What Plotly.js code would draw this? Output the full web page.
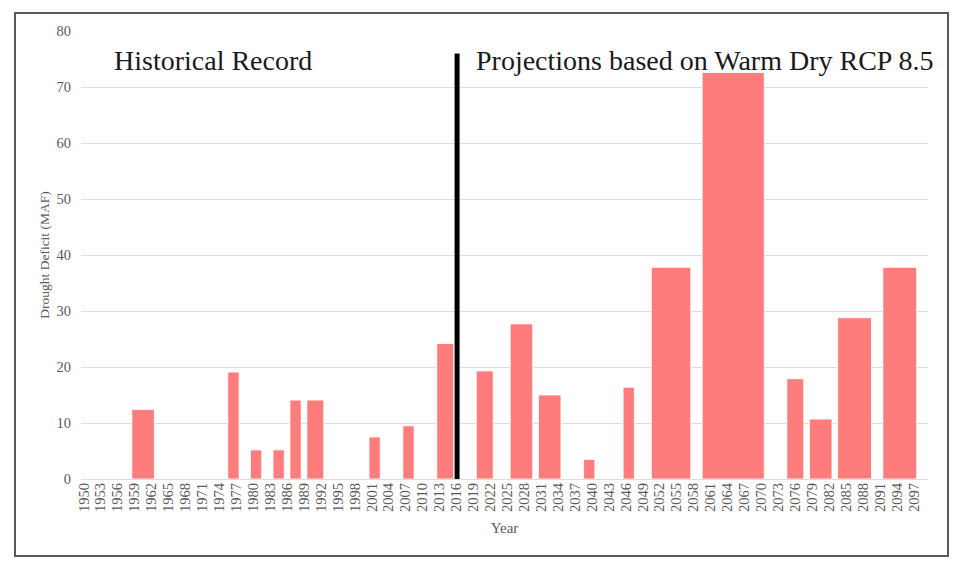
<!DOCTYPE html>
<html>
<head>
<meta charset="utf-8">
<script src="https://cdn.plot.ly/plotly-3.0.1.min.js"></script>
<style>
  html, body { margin: 0; padding: 0; background: #ffffff; }
  #frame { position: absolute; left: 14px; top: 12px; width: 931px; height: 541px; border: 2px solid #595959; background: #fff; }
  #chart { width: 931px; height: 541px; }
</style>
</head>
<body>
<div id="frame"><div id="chart"></div></div>
<script>
// Drought events: first year, last year, drought deficit (MAF)
var droughtStart = [1959, 1976, 1980, 1984, 1987, 1990, 2001, 2007, 2013, 2020, 2026, 2031, 2039, 2046, 2051, 2060, 2075, 2079, 2084, 2092];
var droughtEnd   = [1962, 1977, 1981, 1985, 1988, 1992, 2002, 2008, 2015, 2022, 2029, 2034, 2040, 2047, 2057, 2070, 2077, 2082, 2089, 2097];
var deficit      = [12.4, 19.1, 5.2, 5.2, 14.1, 14.1, 7.5, 9.5, 24.2, 19.3, 27.7, 15.0, 3.5, 16.4, 37.8, 72.6, 17.9, 10.7, 28.8, 37.8];

// Tick labels: every third year from 1950
var tickYears = [];
for (var t = 1950; t <= 2097; t += 3) tickYears.push(t);
var tickLabels = tickYears.map(String);

var dividerYear = 2016.1;
var dividerTop = 76;
var labelHistorical = "Historical Record";
var labelProjection = "Projections based on Warm Dry RCP 8.5";

var xMid = droughtStart.map(function (s, i) { return (s + droughtEnd[i]) / 2; });
var widths = droughtStart.map(function (s, i) { return droughtEnd[i] - s + 1; });

var serif = "'Liberation Serif', 'DejaVu Serif', serif";
var grey = "#595959";

var trace = {
  type: "bar",
  x: xMid,
  y: deficit,
  width: widths,
  marker: { color: "#FF7C7C", line: { color: "rgba(255,255,255,0.85)", width: 1 } },
  hoverinfo: "x+y"
};

var layout = {
  width: 931,
  height: 541,
  margin: { l: 65, r: 19, t: 17, b: 76 },
  paper_bgcolor: "#ffffff",
  plot_bgcolor: "#ffffff",
  showlegend: false,
  font: { family: serif, color: grey, size: 14 },
  xaxis: {
    range: [1949.5, 2099.5],
    tickmode: "array",
    tickvals: tickYears,
    ticktext: tickLabels,
    tickangle: -90,
    showgrid: false,
    zeroline: false,
    showline: false,
    ticks: "",
    tickfont: { family: serif, size: 14.5, color: grey },
    title: { text: "Year", font: { family: serif, size: 15, color: grey }, standoff: 11 }
  },
  yaxis: {
    range: [0, 80],
    dtick: 10,
    showgrid: true,
    gridcolor: "#dcdcdc",
    gridwidth: 1,
    zeroline: true,
    zerolinecolor: "#dcdcdc",
    zerolinewidth: 1,
    showline: false,
    ticks: "",
    ticklabelstandoff: 9,
    tickfont: { family: serif, size: 14.5, color: grey },
    title: { text: "Drought Deficit (MAF)", font: { family: serif, size: 13.5, color: grey }, standoff: 3 }
  },
  shapes: [{
    type: "line", xref: "x", yref: "y",
    x0: dividerYear, x1: dividerYear, y0: 0, y1: dividerTop,
    line: { color: "#000000", width: 5 }
  }],
  annotations: [
    { text: labelHistorical, xref: "paper", yref: "paper", x: 0.037, y: 0.935, xanchor: "left", yanchor: "middle",
      showarrow: false, font: { family: serif, size: 28, color: "#1a1a1a" } },
    { text: labelProjection, xref: "paper", yref: "paper", x: 0.464, y: 0.935, xanchor: "left", yanchor: "middle",
      showarrow: false, font: { family: serif, size: 28, color: "#1a1a1a" } }
  ]
};

Plotly.newPlot("chart", [trace], layout, { displayModeBar: false, staticPlot: true });
</script>
</body>
</html>
